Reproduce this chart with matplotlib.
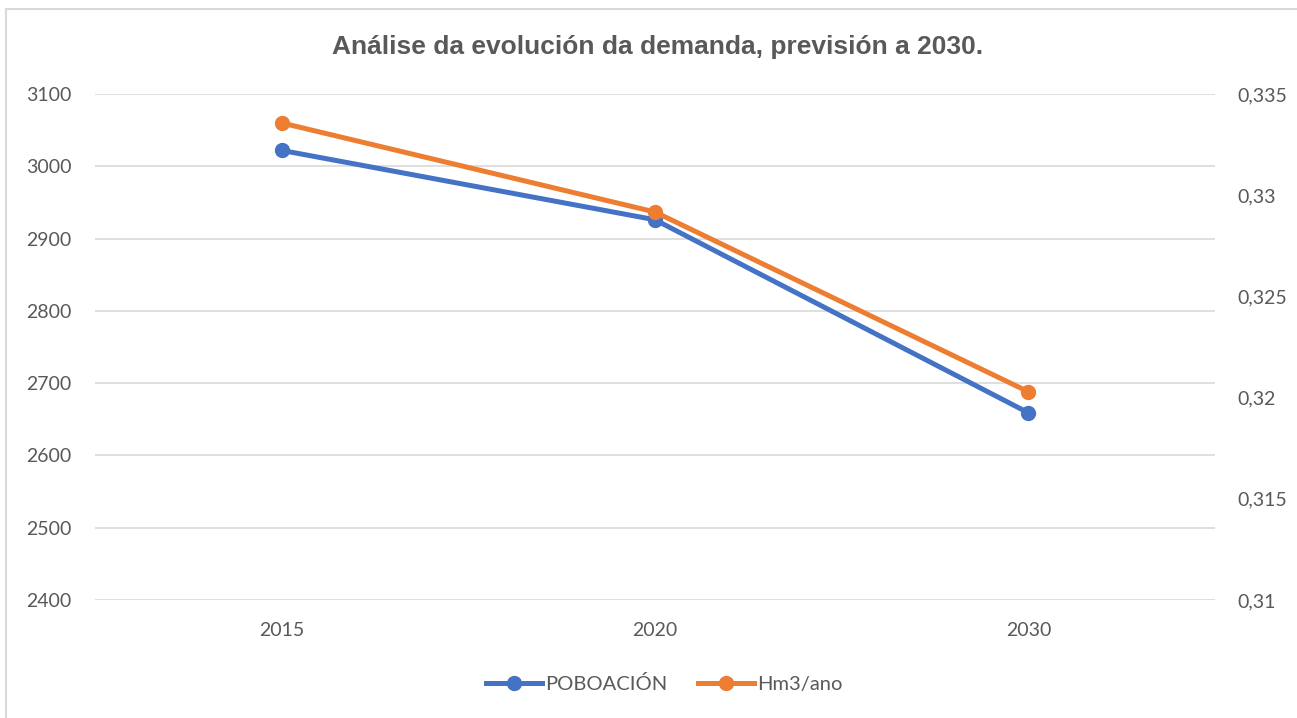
import matplotlib
matplotlib.use('Agg')
import matplotlib.pyplot as plt
from matplotlib.lines import Line2D
from matplotlib.ticker import FuncFormatter

# data
years = ['2015', '2020', '2030']
poboacion = [3022, 2926, 2659]
hm3_ano = [0.33357, 0.32917, 0.32029]

left_ticks = [2400, 2500, 2600, 2700, 2800, 2900, 3000, 3100]
right_ticks = [0.31, 0.315, 0.32, 0.325, 0.33, 0.335]

BLUE = '#4472C4'
ORANGE = '#ED7D31'
GREY_TEXT = '#595959'
GRID = '#D9D9D9'

plt.rcParams['font.family'] = ['Lato', 'DejaVu Sans']

fig = plt.figure(figsize=(12.97, 7.18), dpi=100)
ax = fig.add_axes([95 / 1297, 1 - 600 / 718, 1120 / 1297, 506 / 718])
ax2 = ax.twinx()

x = list(range(len(years)))
ax.plot(x, poboacion, color=BLUE, lw=3.6, marker='o', ms=10, zorder=3)
ax2.plot(x, hm3_ano, color=ORANGE, lw=3.6, marker='o', ms=10, zorder=3)

ax.set_xlim(-0.5, len(years) - 0.5)
ax.set_ylim(left_ticks[0], left_ticks[-1])
ax2.set_ylim(right_ticks[0], right_ticks[-1])
ax.set_yticks(left_ticks)
ax2.set_yticks(right_ticks)
ax.set_xticks(x)
ax.set_xticklabels(years)

ax2.yaxis.set_major_formatter(FuncFormatter(lambda v, p: ('%g' % v).replace('.', ',')))

ax.grid(axis='y', color=GRID, lw=1.2)
ax.set_axisbelow(True)
for a in (ax, ax2):
    for s in a.spines.values():
        s.set_visible(False)
ax.tick_params(axis='y', length=0, pad=17, labelsize=14, labelcolor=GREY_TEXT)
ax.tick_params(axis='x', length=0, pad=16, labelsize=14, labelcolor=GREY_TEXT)
ax2.tick_params(axis='y', length=0, pad=16, labelsize=14, labelcolor=GREY_TEXT)

fig.text(658 / 1297, 1 - 47 / 718, 'Análise da evolución da demanda, previsión a 2030.',
         ha='center', va='center', fontsize=19, fontweight='bold', color=GREY_TEXT,
         family=['Liberation Sans', 'DejaVu Sans'])

handles = [Line2D([], [], color=BLUE, lw=3.6, marker='o', ms=10),
           Line2D([], [], color=ORANGE, lw=3.6, marker='o', ms=10)]
fig.legend(handles, ['POBOACIÓN', 'Hm3/ano'], loc='center', bbox_to_anchor=(664 / 1297, 1 - 684 / 718),
           ncol=2, frameon=False, fontsize=14.5, labelcolor=GREY_TEXT, handlelength=2.8,
           handletextpad=0.15, columnspacing=1.5)

# chart border (left and top edges visible)
fig.add_artist(Line2D([6 / 1297, 6 / 1297], [0, 1 - 9 / 718], transform=fig.transFigure, color=GRID, lw=1.5))
fig.add_artist(Line2D([6 / 1297, 1], [1 - 9 / 718, 1 - 9 / 718], transform=fig.transFigure, color=GRID, lw=1.5))

fig.savefig('out.png', dpi=100)
